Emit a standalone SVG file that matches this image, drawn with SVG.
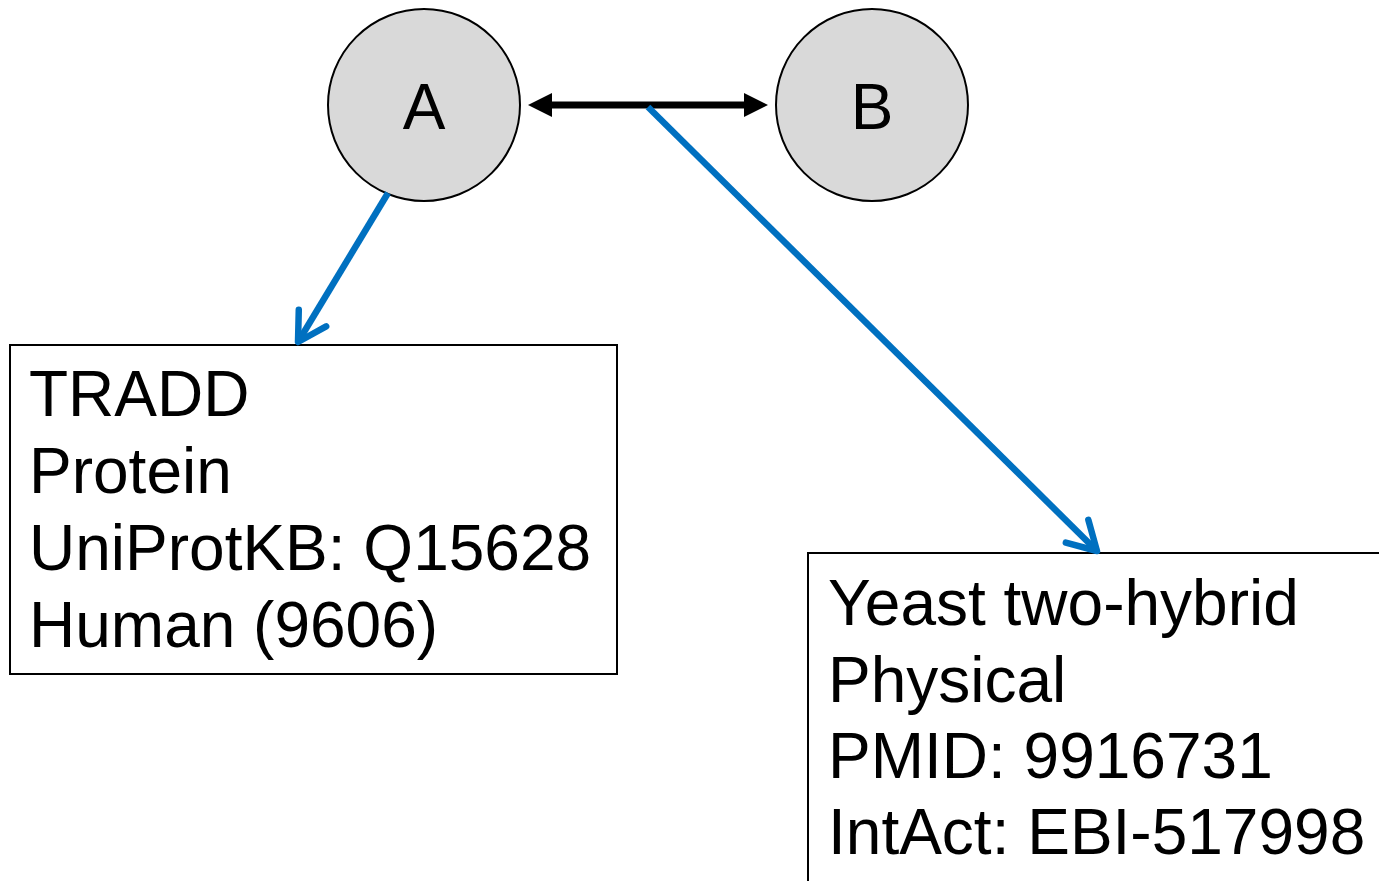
<svg xmlns="http://www.w3.org/2000/svg" width="1379" height="881" viewBox="0 0 1379 881">
<style>
.node circle{fill:#D9D9D9;stroke:#000;stroke-width:2}
.box rect{fill:#fff;stroke:#000;stroke-width:2}
text{font-family:"Liberation Sans",Arial,sans-serif;font-size:64px;fill:#000}
.blue{stroke:#0070C0;stroke-width:6.5;fill:none}
.blk{stroke:#000;stroke-width:7;fill:none}
</style>
<defs>
<marker id="tri" markerUnits="userSpaceOnUse" viewBox="0 -13 26 26" refX="12" refY="0" markerWidth="26" markerHeight="26" orient="auto-start-reverse" overflow="visible">
<path d="M0,-12 L24,0 L0,12 Z" fill="#000"/>
</marker>
<marker id="chev" markerUnits="userSpaceOnUse" viewBox="-34 -20 40 40" refX="0" refY="0" markerWidth="40" markerHeight="40" orient="auto" overflow="visible">
<path d="M-28,-16 L0,0 L-28,16" fill="none" stroke="#0070C0" stroke-width="6.5" stroke-linecap="round" stroke-linejoin="round"/>
</marker>
</defs>
<rect width="1379" height="881" fill="#fff"/>
<g id="boxA" class="box">
<rect x="10" y="345" width="607" height="329"/>
<text x="29" y="416">TRADD</text>
<text x="29" y="493">Protein</text>
<text x="29" y="570">UniProtKB: Q15628</text>
<text x="29" y="647">Human (9606)</text>
</g>
<g id="boxEdge" class="box">
<rect x="808" y="553" width="620" height="400"/>
<text x="828" y="625">Yeast two-hybrid</text>
<text x="828" y="702">Physical</text>
<text x="828" y="778">PMID: 9916731</text>
<text x="828" y="854">IntAct: EBI-517998</text>
</g>
<g id="nodeA" class="node">
<circle cx="424" cy="105" r="96"/>
<text x="424" y="129" text-anchor="middle">A</text>
</g>
<g id="nodeB" class="node">
<circle cx="872" cy="105" r="96"/>
<text x="872" y="129" text-anchor="middle">B</text>
</g>
<g id="connectors">
<line class="blk" x1="540" y1="105" x2="756" y2="105" marker-start="url(#tri)" marker-end="url(#tri)"/>
<line class="blue" x1="388" y1="193" x2="298" y2="342" marker-end="url(#chev)"/>
<line class="blue" x1="648" y1="107" x2="1097" y2="551" marker-end="url(#chev)"/>
</g>
</svg>
